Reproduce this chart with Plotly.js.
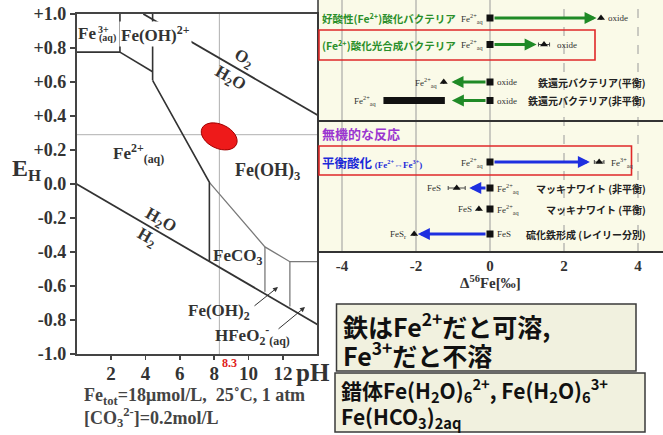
<!DOCTYPE html>
<html><head><meta charset="utf-8">
<script src="https://cdn.plot.ly/plotly-3.0.1.min.js"></script>
<style>html,body{margin:0;padding:0;background:#fff}#chart{width:663px;height:435px}</style>
</head><body><div id="chart"></div>
<script>
// ===== Pourbaix (EH-pH) diagram data =====
const ehTickVals = [-1.0,-0.8,-0.6,-0.4,-0.2,0.0,0.2,0.4,0.6,0.8,1.0];
const ehTickText = ['-1.0','-0.8','-0.6','-0.4','-0.2','0.0','+0.2','+0.4','+0.6','+0.8','+1.0'];
const phTickVals = [2,4,6,8,10,12];
const phTickText = ['2','4','6','8','10','12'];
// dark phase boundaries
const fe3BoxPH = [0, 2.52, 2.52];       const fe3BoxEH = [0.776, 0.776, 1.0];
const fe3OhPH  = [2.52, 4.42];          const fe3OhEH  = [0.776, 0.66];
const feOhVertPH = [4.42, 4.42];        const feOhVertEH = [1.0, 0.61];
const fe2Fe3PH = [4.42, 7.72, 7.72];    const fe2Fe3EH = [0.61, 0.01, -0.455];
const o2LinePH = [3.88, 14];            const o2LineEH = [1.0, 0.406];
const h2LinePH = [0, 14];               const h2LineEH = [0.0, -0.826];
// grey phase boundaries
const feco3TopPH = [7.72, 10.95, 12.4, 14];  const feco3TopEH = [0.01, -0.37, -0.457, -0.457];
const feoh2SidePH = [10.95, 10.95];          const feoh2SideEH = [-0.37, -0.634];
const hfeo2SidePH = [12.4, 12.4];            const hfeo2SideEH = [-0.457, -0.72];
// reference lines and sample ellipse
const refPH = 8.3, refEH = 0.29;
const samplePH = 8.29, sampleEH = 0.28;

// ===== Δ56Fe chart data =====
const leftTitles = ['好酸性(Fe<sup>2+</sup>)酸化バクテリア','(Fe<sup>2+</sup>)酸化光合成バクテリア','','','平衡酸化 <span style="font-size:9px;font-family:Liberation Serif">(Fe<sup>2+</sup>⇔Fe<sup>3+</sup>)</span>','','',''];
const rightTitles = ['','','鉄還元バクテリア(平衡)','鉄還元バクテリア(非平衡)','','マッキナワイト (非平衡)','マッキナワイト (平衡)','硫化鉄形成 (レイリー分別)'];
const startVal = [0, 0, 0, 0, 0, 0, 0, 0];
const arrowEnd = [2.88, 1.26, -1.04, -1.03, 2.70, -0.56, -0.18, -1.95];
const triVal   = [3.00, 1.46, -1.25, null, 2.95, -0.90, -0.30, -2.05];
const triErr   = [0, 0.15, 0, 0, 0.13, 0.23, 0, 0];
const rangeBarX = [-2.88, -1.22];    // non-equilibrium Fe reduction range (row 4)
const groupName = ['bio','bio','bio','bio','abio','abio','abio','abio'];
const leftLbl  = ['Fe<sup>2+</sup><sub>aq</sub>','Fe<sup>2+</sup><sub>aq</sub>','Fe<sup>2+</sup><sub>aq</sub>','Fe<sup>2+</sup><sub>aq</sub>','Fe<sup>2+</sup><sub>aq</sub>','FeS','FeS','FeS<sub>r</sub>'];
const rightLbl = ['oxide','oxide','oxide','oxide','Fe<sup>3+</sup><sub>aq</sub>','Fe<sup>2+</sup><sub>aq</sub>','Fe<sup>2+</sup><sub>aq</sub>','FeS'];
const dTickVals = [-4,-2,0,2,4];
const dTickText = ['-4','-2','0','2','4'];

// ===== layout helpers (pixel geometry) =====
const W = 663, H = 435;
const px = x => x / W, py = y => 1 - y / H;
const rowSlot = [18, 44.5, 82, 100.5, 162, 188, 209, 234];
const SERIF = '"Liberation Serif","DejaVu Serif",serif';
const JP = '"Noto Sans CJK JP","Noto Sans",sans-serif';
const DARK = '#333';
const GREEN = '#1f8a26', BLUE = '#1e2fe0';

const traces = [];
function seg(xs, ys, color, width, xa, ya, dash) {
  traces.push({x: xs, y: ys, xaxis: xa||'x', yaxis: ya||'y', mode: 'lines',
    line: {color: color, width: width, dash: dash||'solid'}, hoverinfo: 'skip', showlegend: false});
}
seg([refPH, refPH], [-1, 1], '#b0b0b0', 1);
seg([0, 14], [refEH, refEH], '#b0b0b0', 1);
seg(feco3TopPH, feco3TopEH, '#7a7a7a', 1.3);
seg(feoh2SidePH, feoh2SideEH, '#7a7a7a', 1.3);
seg(hfeo2SidePH, hfeo2SideEH, '#7a7a7a', 1.3);
seg(fe3BoxPH, fe3BoxEH, DARK, 1.6);
seg(fe3OhPH, fe3OhEH, DARK, 1.6);
seg(feOhVertPH, feOhVertEH, DARK, 1.6);
seg(fe2Fe3PH, fe2Fe3EH, DARK, 1.6);
seg(o2LinePH, o2LineEH, DARK, 1.8);
seg(h2LinePH, h2LineEH, DARK, 1.8);

seg(rangeBarX, [rowSlot[3], rowSlot[3]], '#111', 7, 'x2', 'y2');
traces.push({x: startVal, y: rowSlot, xaxis: 'x2', yaxis: 'y2', mode: 'markers',
  marker: {symbol: 'square', size: 7, color: '#111'}, hoverinfo: 'skip', showlegend: false});
traces.push({x: triVal, y: rowSlot, xaxis: 'x2', yaxis: 'y2', mode: 'markers',
  marker: {symbol: 'triangle-up', size: 7, color: '#111'},
  error_x: {type: 'data', array: triErr, visible: true, color: '#444', thickness: 1, width: 2},
  hoverinfo: 'skip', showlegend: false});

// ===== shapes =====
const shapes = [];
shapes.push({type: 'rect', xref: 'paper', yref: 'paper', x0: px(318), x1: 1, y0: py(252), y1: 1,
  fillcolor: '#fafae8', line: {width: 0}, layer: 'below'});
dTickVals.forEach(v => shapes.push({type: 'line', xref: 'x2', yref: 'paper', x0: v, x1: v, y0: py(252), y1: 1,
  line: {color: '#9a9a9a', width: 1, dash: v > 0 ? 'dash' : 'solid'}, layer: 'below'}));
shapes.push({type: 'line', xref: 'paper', yref: 'paper', x0: px(318), x1: px(318), y0: py(300), y1: 1, line: {color: '#333', width: 1.5}});
shapes.push({type: 'line', xref: 'paper', yref: 'paper', x0: px(318), x1: 1, y0: py(252), y1: py(252), line: {color: '#333', width: 2}});
shapes.push({type: 'line', xref: 'paper', yref: 'paper', x0: px(318), x1: 1, y0: py(121), y1: py(121), line: {color: '#333', width: 2}});
shapes.push({type: 'rect', xref: 'paper', yref: 'paper', x0: px(319), x1: px(595), y0: py(60), y1: py(30), line: {color: '#e02828', width: 1.6}});
shapes.push({type: 'rect', xref: 'paper', yref: 'paper', x0: px(319), x1: px(631.5), y0: py(175), y1: py(146), line: {color: '#e02828', width: 1.6}});
(function () {
  const a = 19, b = 12, t = 25 * Math.PI / 180, k = 0.5523;
  const sx = 240.8 / 14, sy = 340 / 2;
  const c = Math.cos(t), s = Math.sin(t);
  const p = (u, v) => { const dx = u * c - v * s, dy = u * s + v * c;
    return (samplePH + dx / sx).toFixed(4) + ',' + (sampleEH - dy / sy).toFixed(4); };
  const path = `M${p(a,0)} C${p(a,k*b)} ${p(k*a,b)} ${p(0,b)} C${p(-k*a,b)} ${p(-a,k*b)} ${p(-a,0)} ` +
    `C${p(-a,-k*b)} ${p(-k*a,-b)} ${p(0,-b)} C${p(k*a,-b)} ${p(a,-k*b)} ${p(a,0)} Z`;
  shapes.push({type: 'path', xref: 'x', yref: 'y', path: path, fillcolor: '#ee1a1a', line: {color: '#a00000', width: 1}});
})();
shapes.push({type: 'rect', xref: 'paper', yref: 'paper', x0: px(336.5), x1: px(636), y0: py(371), y1: py(304), fillcolor: '#f1f1df', line: {color: '#3a3a3a', width: 1.5}});
shapes.push({type: 'rect', xref: 'paper', yref: 'paper', x0: px(335), x1: px(645), y0: py(432), y1: py(373), fillcolor: '#f1f1df', line: {color: '#3a3a3a', width: 1.5}});

// ===== annotations =====
const ann = [];
const A = o => ann.push(Object.assign({showarrow: false, xanchor: 'center', yanchor: 'middle'}, o));
const sf = (size, color) => ({family: SERIF, size: size, color: color || DARK, weight: 'bold'});
A({xref: 'x', yref: 'y', x: 0.62, y: 0.888, text: 'Fe', font: sf(17)});
A({xref: 'x', yref: 'y', x: 1.55, y: 0.91, text: '3+', font: sf(10)});
A({xref: 'x', yref: 'y', x: 1.78, y: 0.86, text: '(aq)', font: sf(10)});
A({xref: 'x', yref: 'y', x: 4.6, y: 0.885, text: 'Fe(OH)<sup>2+</sup>', font: sf(17), bgcolor: '#fff', borderpad: 1});
A({xref: 'x', yref: 'y', x: 3.6, y: 0.182, text: 'Fe<sup>2+</sup><sub>(aq)</sub>', font: sf(17)});
A({xref: 'x', yref: 'y', x: 11.07, y: 0.076, text: 'Fe(OH)<sub>3</sub>', font: sf(18)});
A({xref: 'x', yref: 'y', x: 9.33, y: -0.43, text: 'FeCO<sub>3</sub>', font: sf(17)});
A({xref: 'x', yref: 'y', x: 8.29, y: -0.753, text: 'Fe(OH)<sub>2</sub>', font: sf(17)});
A({xref: 'x', yref: 'y', x: 10.2, y: -0.894, text: 'HFeO<sub>2</sub><sup>-</sup><sub>(aq)</sub>', font: sf(17)});
A({xref: 'x', yref: 'y', x: 9.7, y: 0.735, text: 'O<sub>2</sub>', font: sf(17), textangle: 30});
A({xref: 'x', yref: 'y', x: 8.92, y: 0.62, text: 'H<sub>2</sub>O', font: sf(17), textangle: 30});
A({xref: 'x', yref: 'y', x: 4.85, y: -0.22, text: 'H<sub>2</sub>O', font: sf(17), textangle: 30});
A({xref: 'x', yref: 'y', x: 4.05, y: -0.318, text: 'H<sub>2</sub>', font: sf(17), textangle: 30});
ann.push({xref: 'x', yref: 'y', x: 11.71, y: -0.606, ax: -25, ay: 20, text: '', showarrow: true, arrowhead: 2, arrowsize: 1, arrowwidth: 1, arrowcolor: DARK});
ann.push({xref: 'x', yref: 'y', x: 13.28, y: -0.724, ax: -28, ay: 23, text: '', showarrow: true, arrowhead: 2, arrowsize: 1, arrowwidth: 1, arrowcolor: DARK});
A({xref: 'paper', yref: 'paper', x: px(26), y: py(170), text: 'E<sub>H</sub>', font: sf(24, '#333')});
A({xref: 'paper', yref: 'paper', x: px(313), y: py(372), text: 'pH', font: sf(25, '#333')});
A({xref: 'paper', yref: 'paper', x: px(229), y: py(363), text: '8.3', font: sf(12, '#e02020')});
A({xref: 'paper', yref: 'paper', x: px(82), y: py(396), xanchor: 'left', text: 'Fe<sub>tot</sub>=18μmol/L,  25˚C, 1 atm', font: sf(18, '#444')});
A({xref: 'paper', yref: 'paper', x: px(82), y: py(417), xanchor: 'left', text: '[CO<sub>3</sub><sup>2-</sup>]=0.2mol/L', font: sf(18, '#444')});

rowSlot.forEach((r, i) => {
  ann.push({xref: 'x2', yref: 'y2', axref: 'x2', ayref: 'y2', x: arrowEnd[i], y: r, ax: startVal[i], ay: r,
    text: '', showarrow: true, arrowhead: 2, arrowsize: 0.8, arrowwidth: 3, standoff: 0, startstandoff: 3,
    arrowcolor: groupName[i] === 'bio' ? GREEN : BLUE});
  let lx = triVal[i] !== null ? Math.min(triVal[i] - triErr[i], startVal[i]) : rangeBarX[0];
  if (triVal[i] !== null && triVal[i] > 0) lx = startVal[i];
  A({xref: 'x2', yref: 'y2', x: lx, y: r, xanchor: 'right', xshift: -5, text: leftLbl[i],
     font: {family: SERIF, size: 9, color: '#333'}});
  let rx = (triVal[i] !== null && triVal[i] > 0) ? triVal[i] + triErr[i] : startVal[i];
  A({xref: 'x2', yref: 'y2', x: rx, y: r, xanchor: 'left', xshift: 5, text: rightLbl[i],
     font: {family: SERIF, size: 9, color: '#333'}});
  if (leftTitles[i]) A({xref: 'paper', yref: 'y2', x: px(320), y: r, xanchor: 'left', text: leftTitles[i],
     font: {family: JP, size: groupName[i] === 'bio' ? 10.5 : 12.5, color: groupName[i] === 'bio' ? '#2a8f2a' : '#1c2ad8', weight: 'bold'}});
  if (rightTitles[i]) A({xref: 'paper', yref: 'y2', x: px(648), y: r, xanchor: 'right', text: rightTitles[i],
     font: {family: JP, size: 10, color: '#222', weight: 'bold'}});
});
A({xref: 'paper', yref: 'paper', x: px(320), y: py(133), xanchor: 'left', text: '無機的な反応',
   font: {family: JP, size: 13, color: '#9a35d0', weight: 'bold'}});
A({xref: 'paper', yref: 'paper', x: px(490), y: py(282), text: 'Δ<sup>56</sup>Fe[‰]', font: sf(15, '#333')});

const boxFont = s => ({family: JP, size: s, color: '#111', weight: 'bold'});
A({xref: 'paper', yref: 'paper', x: px(341), y: py(325), xanchor: 'left', text: '鉄はFe<sup>2+</sup>だと可溶,', font: boxFont(25)});
A({xref: 'paper', yref: 'paper', x: px(341), y: py(354), xanchor: 'left', text: 'Fe<sup>3+</sup>だと不溶', font: boxFont(25)});
A({xref: 'paper', yref: 'paper', x: px(339), y: py(390), xanchor: 'left', text: '錯体Fe(H<sub>2</sub>O)<sub>6</sub><sup>2+</sup>, Fe(H<sub>2</sub>O)<sub>6</sub><sup>3+</sup>', font: boxFont(21)});
A({xref: 'paper', yref: 'paper', x: px(339), y: py(417), xanchor: 'left', text: 'Fe(HCO<sub>3</sub>)<sub>2aq</sub>', font: boxFont(21)});

const layout = {
  width: W, height: H, margin: {l: 0, r: 0, t: 0, b: 0},
  paper_bgcolor: '#fff', plot_bgcolor: 'rgba(0,0,0,0)', showlegend: false,
  xaxis: {domain: [76.6 / W, 317.4 / W], range: [0, 14], tickvals: phTickVals, ticktext: phTickText,
    ticks: 'outside', ticklen: 4, tickwidth: 1.5, tickcolor: '#444', showgrid: false, zeroline: false,
    showline: true, linecolor: '#444', linewidth: 1.8, mirror: true, automargin: false,
    tickfont: sf(19, '#333'), anchor: 'y', ticklabelstandoff: -3},
  yaxis: {domain: [py(354), py(14)], range: [-1, 1], tickvals: ehTickVals, ticktext: ehTickText,
    ticks: 'outside', ticklen: 5, tickwidth: 1.5, tickcolor: '#444', showgrid: false, zeroline: false,
    showline: true, linecolor: '#444', linewidth: 1.8, mirror: true, automargin: false,
    tickfont: sf(18, '#333'), anchor: 'x'},
  xaxis2: {domain: [318 / W, 1], range: [(318 - 490) / 37, (663 - 490) / 37], tickvals: dTickVals, ticktext: dTickText,
    ticks: '', showgrid: false, zeroline: false, showline: false, tickfont: sf(15, '#333'), anchor: 'y2', ticklabelstandoff: 3, automargin: false},
  yaxis2: {domain: [py(252), 1], range: [252, 0], visible: false, anchor: 'x2', automargin: false},
  shapes: shapes, annotations: ann
};
Plotly.newPlot('chart', traces, layout, {staticPlot: true, displayModeBar: false});
</script></body></html>
